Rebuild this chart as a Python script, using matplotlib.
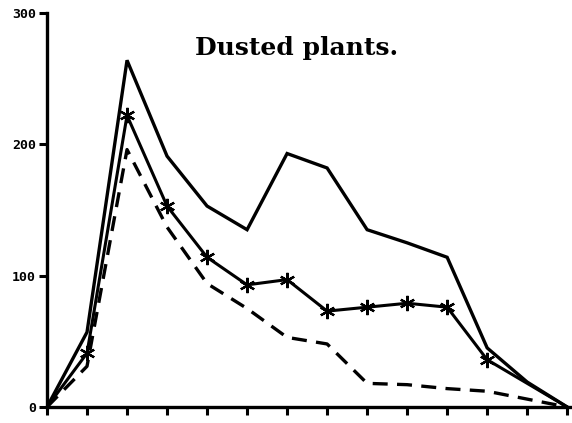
import matplotlib
matplotlib.use('Agg')
import matplotlib.pyplot as plt

# --- data ---
days = list(range(14))
total = [0, 57, 264, 191, 153, 135, 193, 182, 135, 125, 114, 45, 19, 0]
starred = [0, 41, 222, 153, 114, 93, 97, 73, 76, 79, 76, 36, 18, 0]
dashed = [0, 31, 196, 137, 94, 75, 53, 48, 18, 17, 14, 12, 6, 0]
yticks = [0, 100, 200, 300]
title = 'Dusted plants.'

fig = plt.figure(figsize=(5.72, 4.23), dpi=100)
ax = fig.add_axes([47/572, 16/423, 525/572, 394/423])

ax.plot(days, total, color='black', lw=2.4, solid_joinstyle='miter')
ax.plot(days, starred, color='black', lw=2.2, marker=(6, 2, 0), ms=11, mew=1.6,
        markevery=slice(1, 12))
ax.plot(days, dashed, color='black', lw=2.4, dashes=(4.5, 2.8))

ax.set_xlim(0, 13.12)
ax.set_ylim(0, 300)
ax.set_xticks(days)
ax.set_xticklabels([])
ax.set_yticks(yticks)
ax.set_yticklabels([str(v) for v in yticks], fontsize=9.5, fontweight='bold', family='DejaVu Sans Mono')

for s in ['top', 'right']:
    ax.spines[s].set_visible(False)
for s in ['left', 'bottom']:
    ax.spines[s].set_linewidth(2.4)
ax.tick_params(axis='both', direction='out', length=6, width=2.2, pad=2)

ax.text(0.476, 0.91, title, transform=ax.transAxes, ha='center', va='center',
        fontsize=18, fontweight='bold', family='DejaVu Serif')

fig.savefig('out.png', dpi=100)
